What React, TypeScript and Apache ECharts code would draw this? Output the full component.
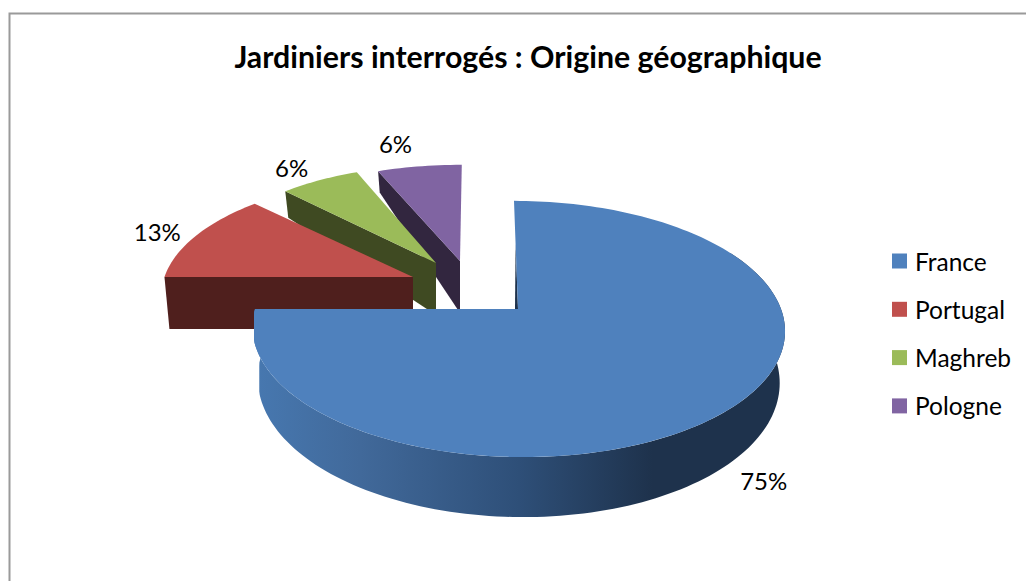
import React, { useEffect, useRef } from "react";
import * as echarts from "echarts";

const titleText = "Jardiniers interrogés : Origine géographique";
const categories = ["France", "Portugal", "Maghreb", "Pologne"];
const counts = [12, 2, 1, 1];

const FONT = "Lato, Carlito, sans-serif";
const topColors = ["#4f81bd", "#c0504d", "#9bbb59", "#8064a2"];
const wallColors = ["#1e324c", "#4f1f1d", "#3f4a22", "#32263f"];
// Exploded-slice layout: apex of each slice, its scale and wall heights (far end, near end)
const apexes = [[518, 309], [413, 277], [436, 263], [460, 261]];
const scalesX = [1, 0.945, 0.9, 0.95];
const scalesY = [1, 0.92, 0.9, 0.89];
const wallFar = [50, 52, 22, 20];
const wallNear = [60, 52, 52, 52];
const skews = [4, 0, 0, -2];
const labelOffsets = [[33, 72], [-39, -4], [-28, -13], [-24, -23]];
const depthOrder = [4, 3, 2, 1];

const RADIUS = 263;
const FLATTEN = 125 / 263;
const PERSPECTIVE = 0.156;
const LEFT_LIMIT = 254;

const total = counts.reduce((a, b) => a + b, 0);
const startFractions = counts.map((_, i) => counts.slice(0, i).reduce((a, b) => a + b, 0) / total);

function project(i: number, frac: number, r = 1) {
  const a = frac * Math.PI * 2;
  const wx = Math.sin(a) * r;
  const wy = -Math.cos(a) * r;
  const w = 1 - PERSPECTIVE * wy;
  const py = (RADIUS * scalesY[i] * FLATTEN * wy) / w;
  const px = (RADIUS * scalesX[i] * wx) / w - (skews[i] * -py) / 108;
  const x = apexes[i][0] + px;
  return { x: i === 0 ? Math.max(x, LEFT_LIMIT) : x, y: apexes[i][1] + py, wy };
}

function lower(i: number, p: { x: number; y: number; wy: number }) {
  const t = (p.wy + 1) / 2;
  const h = i === 0 ? wallFar[0] + (wallNear[0] - wallFar[0]) * Math.max(p.wy, 0) : wallFar[i] + (wallNear[i] - wallFar[i]) * t;
  return { x: apexes[i][0] + (p.x - apexes[i][0]) * 0.98, y: p.y + h };
}

function arc(i: number, from: number, to: number) {
  const n = Math.max(8, Math.ceil((to - from) * 240));
  const pts = [] as { x: number; y: number; wy: number }[];
  for (let k = 0; k <= n; k++) pts.push(project(i, from + ((to - from) * k) / n));
  return pts;
}

const xy = (p: { x: number; y: number }) => [p.x, p.y];

function renderSlice(params: any, api: any) {
  const i = params.seriesIndex;
  const frac = api.value(0) / total;
  const from = startFractions[i];
  const to = from + frac;
  const apex = { x: apexes[i][0], y: apexes[i][1] };
  const rim = arc(i, from, to);
  const children: any[] = [];

  if (i === 0) {
    // curved outer wall, only the part facing the viewer
    const front = arc(i, 0.17, to);
    const bottom = front.map((p) => lower(i, p)).reverse();
    children.push({
      type: "polygon",
      shape: { points: [...front.map(xy), ...bottom.map(xy)] },
      style: {
        fill: new echarts.graphic.LinearGradient(0, 0, 1, 0, [
          { offset: 0, color: "#4778b0" },
          { offset: 0.2, color: "#41699a" },
          { offset: 0.5, color: "#2e4f78" },
          { offset: 0.75, color: "#1e324c" },
          { offset: 1, color: "#1e324c" },
        ]),
      },
      silent: true,
    });
    // thin dark sliver on the 12 o'clock cut
    const edge = project(i, 0);
    children.push({
      type: "polygon",
      shape: {
        points: [
          [apex.x - 3, apex.y],
          [apex.x, apex.y],
          [apex.x + (edge.x - apex.x) * 0.6, apex.y + (edge.y - apex.y) * 0.6],
        ],
      },
      style: { fill: wallColors[0] },
      silent: true,
    });
  } else {
    // radial cut face at the slice's starting edge
    const outer = rim[0];
    const apexLow = { x: apex.x, y: apex.y + wallNear[i] };
    children.push({
      type: "polygon",
      shape: { points: [xy(outer), xy(apex), xy(apexLow), xy(lower(i, outer))] },
      style: { fill: wallColors[i] },
      silent: true,
    });
  }

  children.push({
    type: "polygon",
    shape: { points: [xy(apex), ...rim.map(xy)] },
    style: { fill: topColors[i] },
    silent: true,
  });

  const mid = project(i, from + frac / 2);
  const pct = Math.round((api.value(0) / total) * 100);
  children.push({
    type: "text",
    style: {
      x: mid.x + labelOffsets[i][0],
      y: mid.y + labelOffsets[i][1],
      text: pct + "%",
      fill: "#000",
      font: `24px ${FONT}`,
      align: "center",
      verticalAlign: "middle",
    },
    silent: true,
  });
  return { type: "group", children };
}

export default function App() {
  const ref = useRef<HTMLDivElement>(null);
  useEffect(() => {
    const chart = echarts.init(ref.current!, null, { renderer: "svg" });
    chart.setOption({
      animation: false,
      backgroundColor: "#fff",
      title: {
        text: titleText,
        left: 523,
        top: 36,
        textAlign: "center",
        textStyle: { fontFamily: FONT, fontSize: 30.3, fontWeight: "bold", color: "#000" },
      },
      legend: {
        orient: "vertical",
        left: 892,
        top: 248.5,
        padding: 0,
        data: categories,
        icon: "rect",
        itemWidth: 15,
        itemHeight: 15,
        itemGap: 23.3,
        selectedMode: false,
        textStyle: { fontFamily: FONT, fontSize: 24.5, color: "#000", padding: [0, 0, 0, 3] },
      },
      graphic: [
        {
          type: "rect",
          shape: { x: 9.5, y: 13.5, width: 1200, height: 800 },
          style: { fill: "none", stroke: "#9a9a9a", lineWidth: 2 },
          silent: true,
          z: -1,
        },
      ],
      series: categories.map((name, i) => ({
        type: "custom",
        name,
        coordinateSystem: "none",
        renderItem: renderSlice,
        data: [counts[i]],
        z: depthOrder[i] + 2,
        itemStyle: { color: topColors[i] },
        silent: true,
      })),
    });
    return () => chart.dispose();
  }, []);
  return <div ref={ref} style={{ position: "absolute", left: 0, top: 0, width: 1026, height: 581 }} />;
}
